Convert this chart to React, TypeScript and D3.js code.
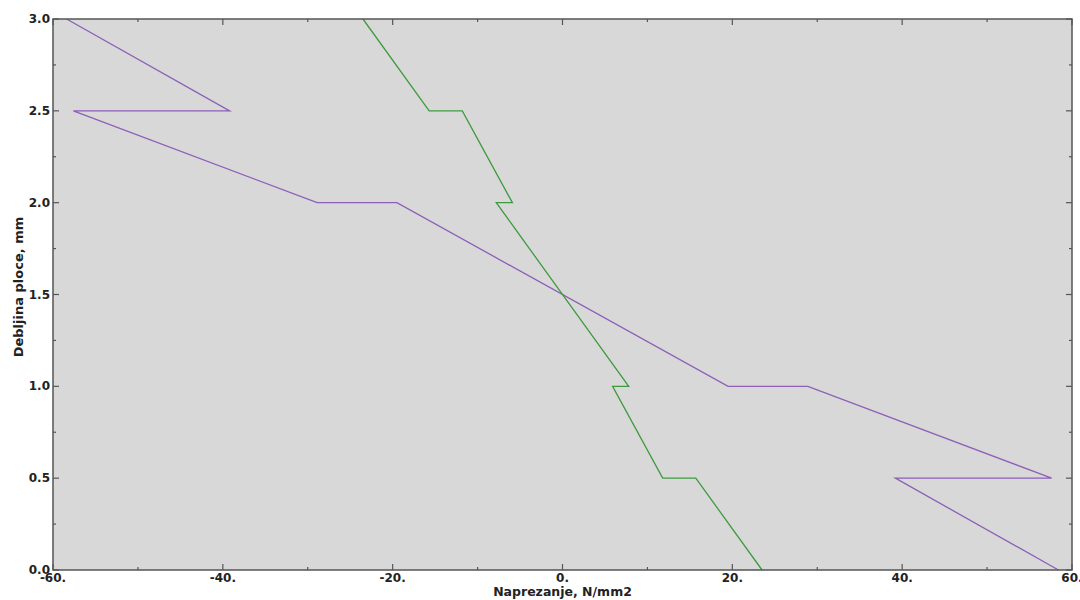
import React from "react";
import * as d3 from "d3";

const purpleX = [-58.4, -39.2, -57.6, -28.9, -19.5, 19.5, 28.9, 57.6, 39.2, 58.4];
const purpleY = [3.0, 2.5, 2.5, 2.0, 2.0, 1.0, 1.0, 0.5, 0.5, 0.0];
const greenX = [-23.5, -15.7, -11.8, -5.9, -7.8, 7.8, 5.9, 11.8, 15.7, 23.5];
const greenY = [3.0, 2.5, 2.5, 2.0, 2.0, 1.0, 1.0, 0.5, 0.5, 0.0];
const xMajorTicks = [-60, -40, -20, 0, 20, 40, 60];
const xTickLabels = ["-60.", "-40.", "-20.", "0.", "20.", "40.", "60."];
const xMinorTicks = [-50, -30, -10, 10, 30, 50];
const yMajorTicks = [0, 0.5, 1.0, 1.5, 2.0, 2.5, 3.0];
const yTickLabels = ["0.0", "0.5", "1.0", "1.5", "2.0", "2.5", "3.0"];
const yMinorTicks = [0.25, 0.75, 1.25, 1.75, 2.25, 2.75];
const xTitle = "Naprezanje, N/mm2";
const yTitle = "Debljina ploce, mm";

export default function App() {
  const W = 1080, H = 600;
  const L = 53, R = 1072, T = 19, B = 570;
  const x = d3.scaleLinear().domain([-60, 60]).range([L, R]);
  const y = d3.scaleLinear().domain([0, 3]).range([B, T]);
  const line = d3.line<[number, number]>().x(d => x(d[0])).y(d => y(d[1]));
  const purple: [number, number][] = purpleX.map((v, i) => [v, purpleY[i]]);
  const green: [number, number][] = greenX.map((v, i) => [v, greenY[i]]);
  const axisColor = "#555";
  const font = "'DejaVu Sans', Verdana, sans-serif";
  return (
    <svg width={W} height={H} style={{ position: "absolute", left: 0, top: 0, background: "#fff" }}>
      <rect x={L} y={T} width={R - L} height={B - T} fill="#d8d8d8" />
      <path d={line(purple) || ""} fill="none" stroke="#8c5fb8" strokeWidth={1.3} />
      <path d={line(green) || ""} fill="none" stroke="#3f9a3f" strokeWidth={1.3} />
      <rect x={L} y={T} width={R - L} height={B - T} fill="none" stroke={axisColor} strokeWidth={1.5} />
      {xMajorTicks.map(t => (
        <g key={"xm" + t}>
          <line x1={x(t)} x2={x(t)} y1={B} y2={B - 6} stroke={axisColor} strokeWidth={1.2} />
          <line x1={x(t)} x2={x(t)} y1={T} y2={T + 6} stroke={axisColor} strokeWidth={1.2} />
        </g>
      ))}
      {xMinorTicks.map(t => (
        <g key={"xn" + t}>
          <line x1={x(t)} x2={x(t)} y1={B} y2={B - 3} stroke={axisColor} strokeWidth={1.2} />
          <line x1={x(t)} x2={x(t)} y1={T} y2={T + 3} stroke={axisColor} strokeWidth={1.2} />
        </g>
      ))}
      {yMajorTicks.map(t => (
        <g key={"ym" + t}>
          <line x1={L} x2={L + 6} y1={y(t)} y2={y(t)} stroke={axisColor} strokeWidth={1.2} />
          <line x1={R} x2={R - 6} y1={y(t)} y2={y(t)} stroke={axisColor} strokeWidth={1.2} />
        </g>
      ))}
      {yMinorTicks.map(t => (
        <g key={"yn" + t}>
          <line x1={L} x2={L + 3} y1={y(t)} y2={y(t)} stroke={axisColor} strokeWidth={1.2} />
          <line x1={R} x2={R - 3} y1={y(t)} y2={y(t)} stroke={axisColor} strokeWidth={1.2} />
        </g>
      ))}
      {xMajorTicks.map((t, i) => (
        <text key={"xl" + t} x={x(t)} y={B + 12} textAnchor="middle" fontFamily={font}
          fontWeight="bold" fontSize={12} fill="#222">{xTickLabels[i]}</text>
      ))}
      {yMajorTicks.map((t, i) => (
        <text key={"yl" + t} x={L - 3} y={y(t) + 4} textAnchor="end" fontFamily={font}
          fontWeight="bold" fontSize={12} fill="#222">{yTickLabels[i]}</text>
      ))}
      <text x={x(0)} y={596} textAnchor="middle" fontFamily={font} fontWeight="bold"
        fontSize={12.5} fill="#222">{xTitle}</text>
      <text transform={`translate(23,287) rotate(-90)`} textAnchor="middle"
        fontFamily={font} fontWeight="bold" fontSize={13} fill="#222">{yTitle}</text>
    </svg>
  );
}
